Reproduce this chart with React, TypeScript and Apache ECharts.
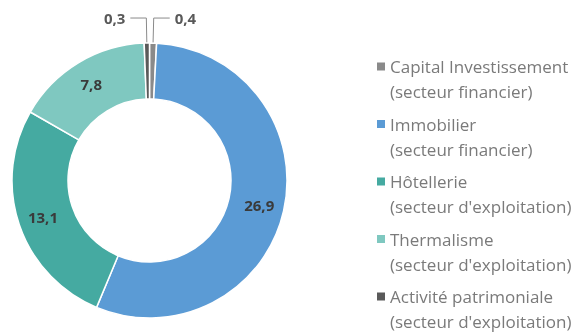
import React, { useEffect, useRef } from 'react';
import * as echarts from 'echarts';

const categories = ['Capital Investissement', 'Immobilier', 'Hôtellerie', 'Thermalisme', 'Activité patrimoniale'];
const sectors = ['(secteur financier)', '(secteur financier)', "(secteur d'exploitation)", "(secteur d'exploitation)", "(secteur d'exploitation)"];
const values = [0.4, 26.9, 13.1, 7.8, 0.3];
const colors = ['#8a8a8a', '#5b9bd5', '#45aaa1', '#7fc8c0', '#5a5a5a'];
const outsideLabel = [true, false, false, false, true];

const fmt = (v: number) => String(v).replace('.', ',');

export default function App() {
  const ref = useRef<HTMLDivElement>(null);
  useEffect(() => {
    if (!ref.current) return;
    const chart = echarts.init(ref.current, null, { renderer: 'svg' });
    const data = categories.map((name, i) => ({
      name,
      value: values[i],
      itemStyle: { color: colors[i] },
      label: outsideLabel[i]
        ? { position: 'outside', color: '#595959' }
        : { position: 'inside', color: '#3a3a3a' },
      labelLine: { show: outsideLabel[i] },
    }));
    chart.setOption({
      animation: false,
      legend: {
        orient: 'vertical',
        left: 377,
        top: 54,
        padding: 0,
        height: 290,
        itemWidth: 8,
        itemHeight: 50,
        itemGap: 7.5,
        icon: 'path://M0,0h0.01v0.01h-0.01z M0,8.5h8v8h-8z M7.99,49.99h0.01v0.01h-0.01z',
        itemStyle: { borderWidth: 0 },
        data: categories,
        formatter: (name: string) => `${name}\n${sectors[categories.indexOf(name)]}`,
        textStyle: { fontFamily: 'Open Sans', fontSize: 17, lineHeight: 25, color: '#7a7a7a' },
      },
      series: [
        {
          type: 'pie',
          center: [149.5, 180.5],
          radius: [81.5, 137.5],
          startAngle: 90,
          clockwise: true,
          avoidLabelOverlap: false,
          itemStyle: { borderColor: '#ffffff', borderWidth: 1.5 },
          label: {
            show: true,
            formatter: (p: any) => fmt(p.value),
            fontFamily: 'Open Sans',
            fontSize: 15,
            fontWeight: 'bold',
          },
          labelLine: { length: 25, length2: 16, lineStyle: { color: '#8a8a8a', width: 1 } },
          emphasis: { disabled: true },
          data,
        },
      ],
    });
    return () => chart.dispose();
  }, []);
  return <div ref={ref} style={{ position: 'fixed', left: 0, top: 0, width: 574, height: 336 }} />;
}
